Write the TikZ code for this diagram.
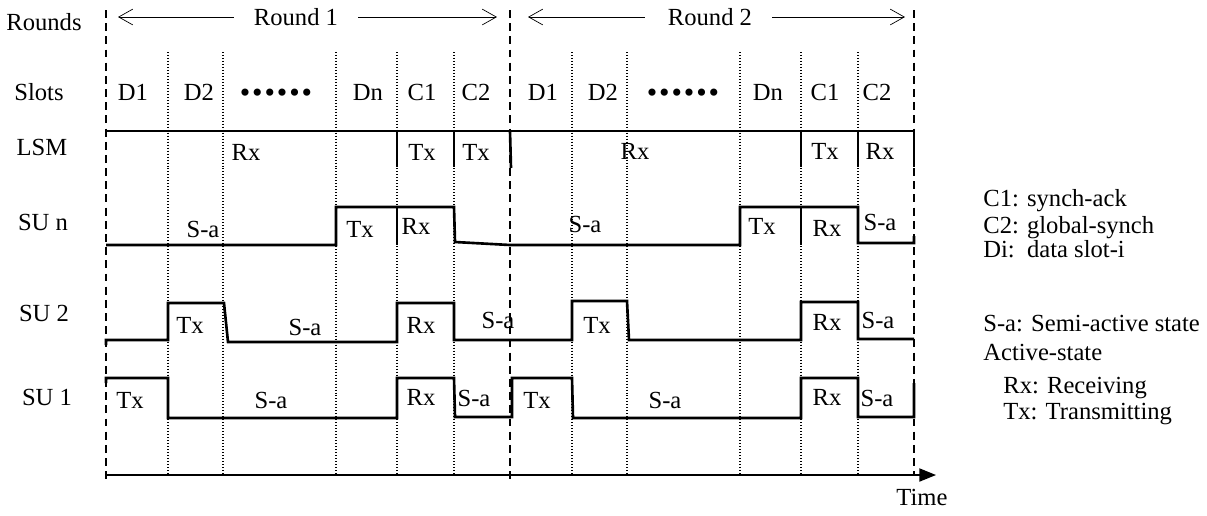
\documentclass[tikz,border=0pt]{standalone}
\usepackage{fontspec}
\setmainfont{Liberation Serif}
\usetikzlibrary{arrows.meta}
\tikzset{
	wave/.style={line width=1.5pt,line join=miter},
	rdash/.style={line width=1.1pt,dash pattern=on 4.5pt off 3pt},
	slotline/.style={line width=0.6pt,dash pattern=on 0.5pt off 1.2pt},
	lbl/.style={inner sep=0pt,text height=9.3pt,text depth=0pt,font=\fontsize{14}{17}\selectfont},
}
\begin{document}
\begin{tikzpicture}[x=0.02cm,y=-0.02cm,>={Straight Barb[length=8pt,width=9pt]}]
	\useasboundingbox (0,0) rectangle (1207,515);
	% round and slot borders
	\foreach \x in {106,510}\draw[rdash] (\x,10)--(\x,483);
	\draw[rdash] (914,10)--(914,475);
	\foreach \s in {106,510}\foreach \d in {62,117,230,291,348}\draw[slotline] (\s+\d,52)--(\s+\d,475);
	\draw[line width=0.8pt,-{Triangle[length=9.5pt,width=7.5pt]}] (106,475)--(936,475);
	\node[lbl] (time) at (922,497) {Time};
	% rounds
	\node[lbl] (rnd1) at (296,17) {Round 1};
	\node[lbl] (rnd2) at (710,17) {Round 2};
	\draw[thin,<-] (118,17)--([xshift=-0.4cm]rnd1.west);
	\draw[thin,->] ([xshift=0.4cm]rnd1.east)--(497,17);
	\draw[thin,<-] (528,17)--([xshift=-0.45cm]rnd2.west);
	\draw[thin,->] ([xshift=0.4cm]rnd2.east)--(905,17);
	% row names
	\foreach \x/\y/\t [count=\i] in {44/22/Rounds,39/92/Slots,42/147/LSM,43/222/SU n,44/313/SU 2,47/397/SU 1}
		\node[lbl] (row\i) at (\x,\y) {\t};
	% slots
	\foreach \x/\t [count=\i] in {133/D1,199/D2,368/Dn,422/C1,476/C2,543/D1,603/D2,768/Dn,825/C1,877/C2}
		\node[lbl] (slot\i) at (\x,92) {\t};
	\foreach \x [count=\i] in {276,683}
		\node[lbl,text height=11.4pt,font=\fontsize{17}{17}\selectfont] (dots\i) at (\x,92) {•\kern1.1pt•\kern1.1pt•\kern1.1pt•\kern1.1pt•\kern1.1pt•};
	% LSM
	\draw[wave] (106,131)--(914,131);
	\foreach \x in {397,454,801,858,914}\draw[wave] (\x,131)--(\x,167);
	\draw[wave] (510,131)--(511,168);
	% SU n
	\draw[wave] (106,245)--(336,245)--(336,207)--(454,207)--(455,242)--(510,245)--(740,245)--(740,207)--(858,207)--(858,243)--(914,243)--(914,236);
	\foreach \x in {397,801}\draw[wave] (\x,207)--(\x,245);
	% SU 2
	\draw[wave] (106,345)--(106,340)--(168,340)--(168,303)--(224,303)--(228,342)--(397,342)--(397,303)--(454,303)--(454,340)--(572,340)--(572,301)--(627,301)--(629,340)--(801,340)--(801,302)--(858,302)--(858,339)--(914,339);
	% SU 1
	\draw[wave] (106,383)--(106,378)--(168,378)--(168,418)--(397,418)--(397,378)--(454,378)--(455,417)--(512,417)--(512,378)--(572,378)--(573,418)--(801,418)--(801,378)--(858,378)--(858,417)--(914,417)--(914,383);
	% states
	\foreach \x/\y/\t [count=\i] in {246/152/Rx,422/152/Tx,476/152/Tx,635/151/Rx,825/151/Tx,880/151/Rx,
		203/229/S-a,360/229/Tx,416/226/Rx,585/224/S-a,762/226/Tx,827/228/Rx,880/222/S-a,
		190/325/Tx,305/327/S-a,421/325/Rx,498/320/S-a,597/325/Tx,827/322/Rx,878/320/S-a,
		130/400/Tx,271/400/S-a,421/397/Rx,474/398/S-a,537/400/Tx,665/400/S-a,827/397/Rx,877/398/S-a}
		\node[lbl] (st\i) at (\x,\y) {\t};
	% legend
	\foreach \x/\y/\t [count=\i] in {983/198/C1: synch-ack,983/225/C2: global-synch,983/249/Di:\ \ data slot-i,
		983/323/S-a: Semi-active state,983/352/Active-state,1003/385/Rx: Receiving,1003/411/Tx: Transmitting}
		\node[lbl,anchor=west] (key\i) at (\x,\y) {\t};
\end{tikzpicture}
\end{document}
